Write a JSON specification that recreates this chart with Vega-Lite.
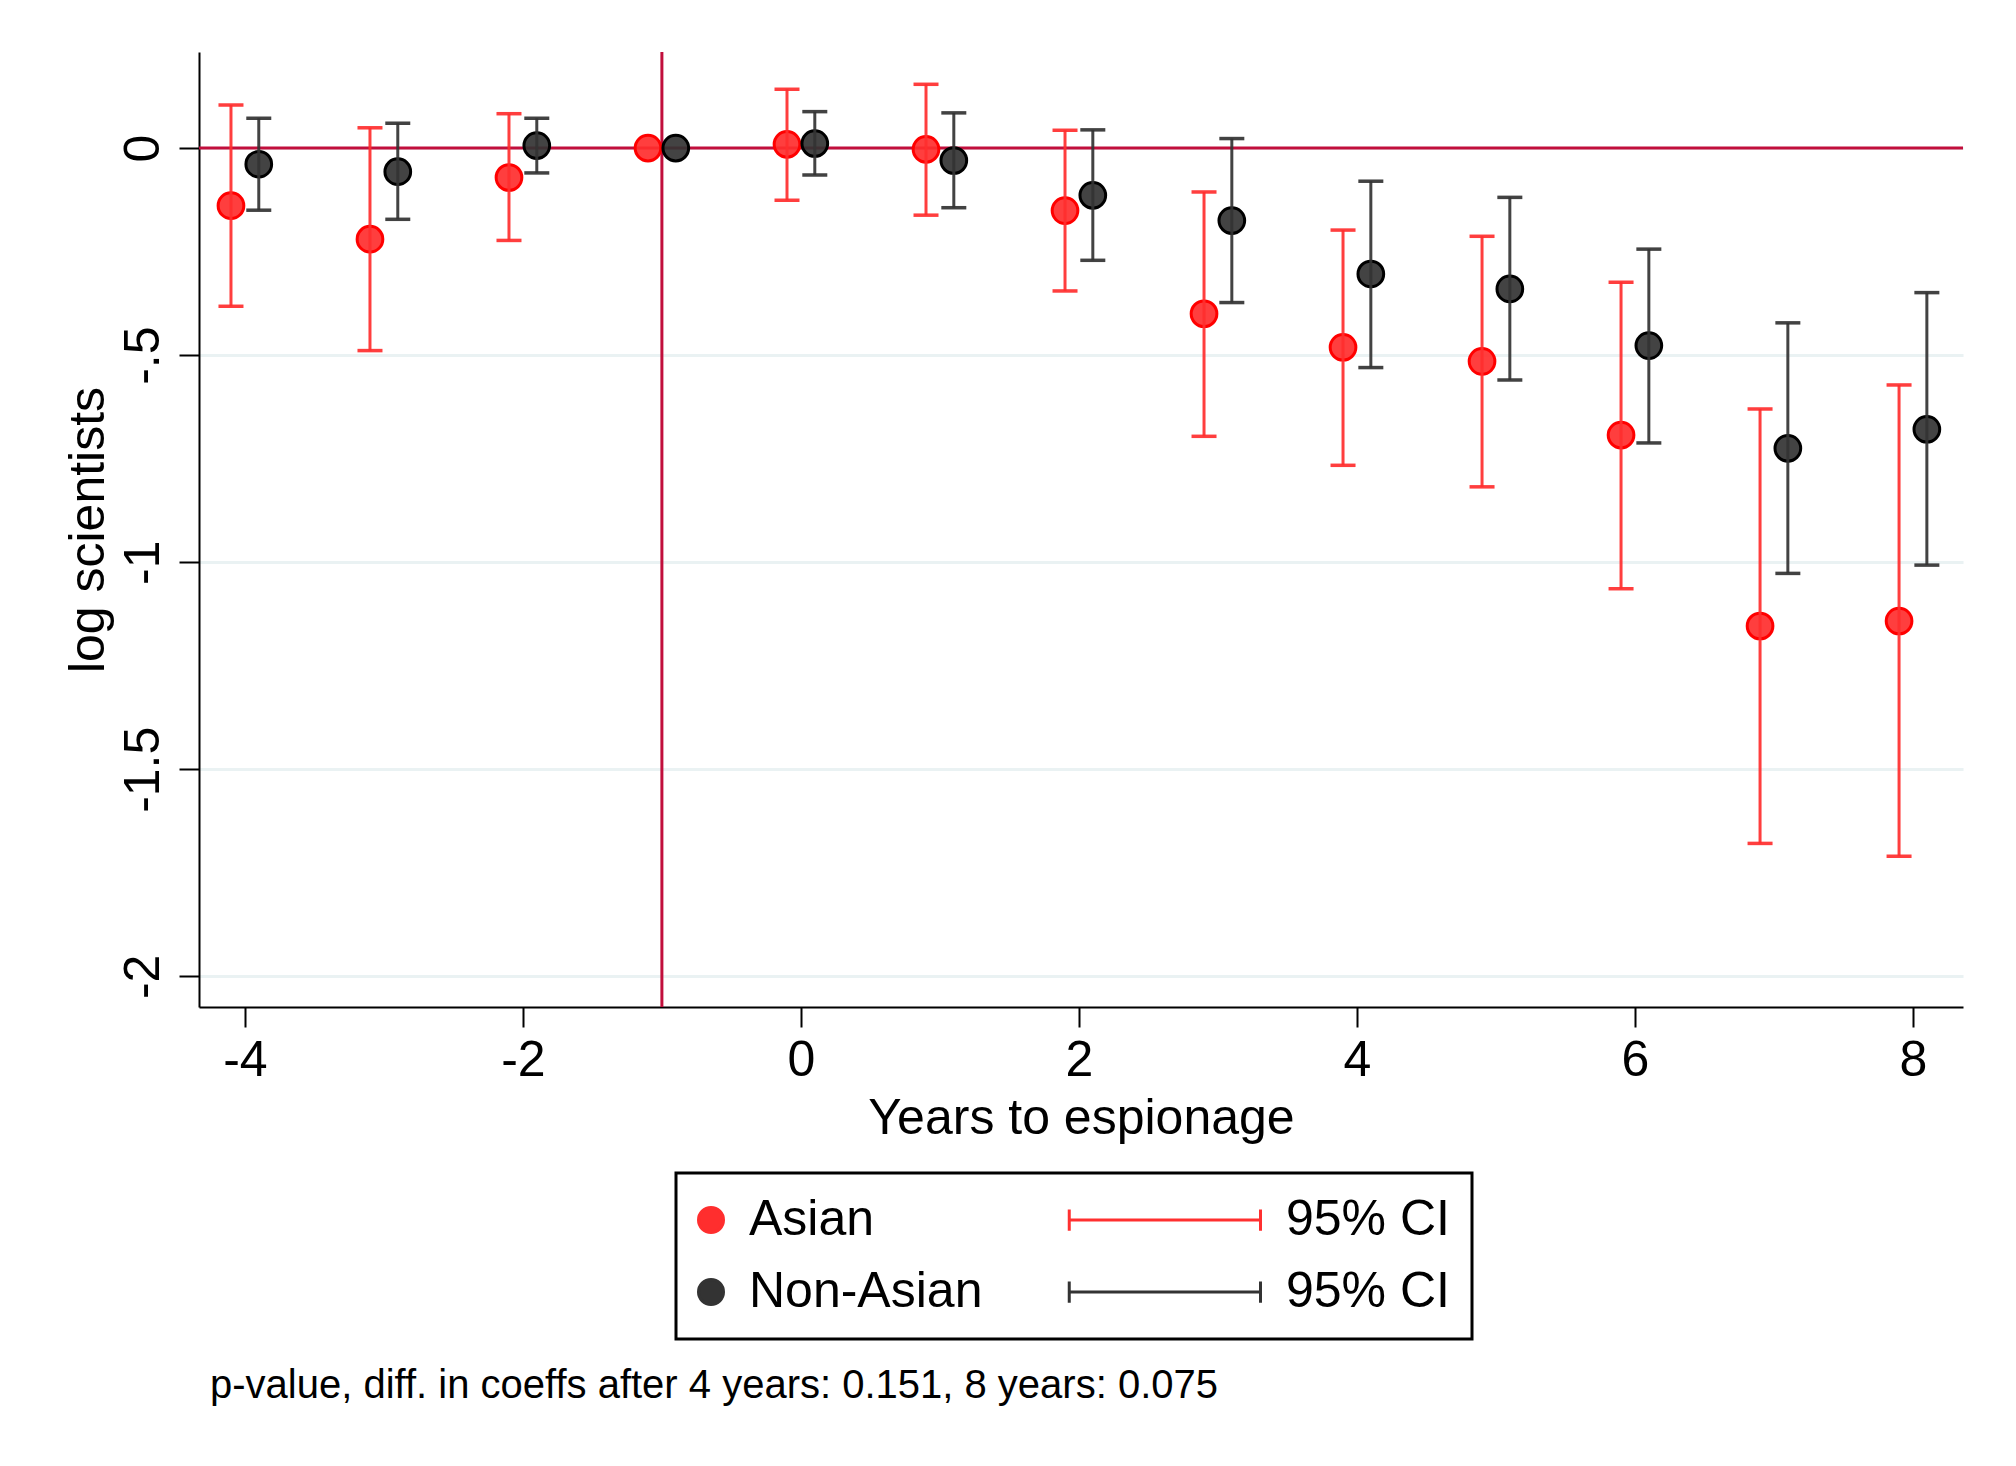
{
  "$schema": "https://vega.github.io/schema/vega-lite/v6.json",
  "autosize": {"type": "none"},
  "width": 1764,
  "height": 955,
  "padding": {"left": 199, "top": 52, "right": 53, "bottom": 459},
  "background": "white",
  "config": {
    "font": "Liberation Sans",
    "view": {"stroke": null},
    "axis": {
      "labelFontSize": 50,
      "titleFontSize": 50,
      "titleFontWeight": "normal",
      "labelColor": "black",
      "titleColor": "black",
      "domainColor": "black",
      "domainWidth": 2,
      "tickColor": "black",
      "tickWidth": 2,
      "tickSize": 20
    },
    "axisX": {"grid": false, "labelPadding": 8, "titlePadding": 8, "labelFlush": false},
    "axisY": {
      "grid": true,
      "gridColor": "#eaf2f3",
      "gridWidth": 3,
      "labelAngle": 270,
      "labelAlign": "center",
      "labelBaseline": "alphabetic",
      "labelPadding": 21,
      "titlePadding": 5
    }
  },
  "title": {
    "text": "p-value, diff. in coeffs after 4 years: 0.151, 8 years: 0.075",
    "orient": "bottom",
    "anchor": "start",
    "frame": "group",
    "fontSize": 40,
    "fontWeight": "normal",
    "color": "black",
    "offset": 25,
    "dx": 11
  },
  "data": {
    "values": [
      {"year": -4, "group": "Asian", "x": -4.1, "est": -0.139, "lo": -0.382, "hi": 0.104},
      {"year": -4, "group": "Non-Asian", "x": -3.9, "est": -0.039, "lo": -0.150, "hi": 0.072},
      {"year": -3, "group": "Asian", "x": -3.1, "est": -0.220, "lo": -0.489, "hi": 0.049},
      {"year": -3, "group": "Non-Asian", "x": -2.9, "est": -0.057, "lo": -0.172, "hi": 0.060},
      {"year": -2, "group": "Asian", "x": -2.1, "est": -0.071, "lo": -0.223, "hi": 0.083},
      {"year": -2, "group": "Non-Asian", "x": -1.9, "est": 0.006, "lo": -0.060, "hi": 0.072},
      {"year": -1, "group": "Asian", "x": -1.1, "est": 0, "lo": null, "hi": null},
      {"year": -1, "group": "Non-Asian", "x": -0.9, "est": 0, "lo": null, "hi": null},
      {"year": 0, "group": "Asian", "x": -0.1, "est": 0.009, "lo": -0.126, "hi": 0.142},
      {"year": 0, "group": "Non-Asian", "x": 0.1, "est": 0.011, "lo": -0.065, "hi": 0.088},
      {"year": 1, "group": "Asian", "x": 0.9, "est": -0.003, "lo": -0.162, "hi": 0.154},
      {"year": 1, "group": "Non-Asian", "x": 1.1, "est": -0.030, "lo": -0.144, "hi": 0.085},
      {"year": 2, "group": "Asian", "x": 1.9, "est": -0.151, "lo": -0.345, "hi": 0.043},
      {"year": 2, "group": "Non-Asian", "x": 2.1, "est": -0.114, "lo": -0.271, "hi": 0.044},
      {"year": 3, "group": "Asian", "x": 2.9, "est": -0.400, "lo": -0.696, "hi": -0.106},
      {"year": 3, "group": "Non-Asian", "x": 3.1, "est": -0.175, "lo": -0.373, "hi": 0.023},
      {"year": 4, "group": "Asian", "x": 3.9, "est": -0.481, "lo": -0.766, "hi": -0.198},
      {"year": 4, "group": "Non-Asian", "x": 4.1, "est": -0.304, "lo": -0.530, "hi": -0.080},
      {"year": 5, "group": "Asian", "x": 4.9, "est": -0.515, "lo": -0.818, "hi": -0.213},
      {"year": 5, "group": "Non-Asian", "x": 5.1, "est": -0.340, "lo": -0.560, "hi": -0.119},
      {"year": 6, "group": "Asian", "x": 5.9, "est": -0.693, "lo": -1.064, "hi": -0.324},
      {"year": 6, "group": "Non-Asian", "x": 6.1, "est": -0.477, "lo": -0.712, "hi": -0.244},
      {"year": 7, "group": "Asian", "x": 6.9, "est": -1.154, "lo": -1.679, "hi": -0.630},
      {"year": 7, "group": "Non-Asian", "x": 7.1, "est": -0.725, "lo": -1.027, "hi": -0.422},
      {"year": 8, "group": "Asian", "x": 7.9, "est": -1.142, "lo": -1.710, "hi": -0.572},
      {"year": 8, "group": "Non-Asian", "x": 8.1, "est": -0.679, "lo": -1.007, "hi": -0.349}
    ]
  },
  "layer": [
    {
      "data": {"values": [{"ref": 0}]},
      "mark": {"type": "rule", "color": "#c10f3c", "strokeWidth": 3},
      "encoding": {
        "y": {"field": "ref", "type": "quantitative", "title": "log scientists",
              "scale": {"domain": [-2.074, 0.232], "nice": false, "zero": false}}
      }
    },
    {
      "data": {"values": [{"event": -1}]},
      "mark": {"type": "rule", "color": "#c10f3c", "strokeWidth": 3},
      "encoding": {
        "x": {"field": "event", "type": "quantitative", "title": "Years to espionage",
              "scale": {"domain": [-4.33, 8.36], "nice": false, "zero": false}}
      }
    },
    {
      "mark": {"type": "point", "filled": true, "size": 660, "strokeWidth": 3, "fillOpacity": 0.92, "strokeOpacity": 1},
      "encoding": {
        "x": {"field": "x", "type": "quantitative", "title": "Years to espionage",
              "scale": {"domain": [-4.33, 8.36], "nice": false, "zero": false},
              "axis": {"values": [-4, -2, 0, 2, 4, 6, 8], "labelExpr": "toString(datum.value)"}},
        "y": {"field": "est", "type": "quantitative", "title": "log scientists",
              "scale": {"domain": [-2.074, 0.232], "nice": false, "zero": false},
              "axis": {"values": [0, -0.5, -1, -1.5, -2], "labelExpr": "replace(toString(datum.value), '-0.', '-.')"}},
        "color": {
          "field": "group", "type": "nominal",
          "scale": {"domain": ["Asian", "Non-Asian", "Asian CI", "Non-Asian CI"],
                    "range": ["#ff2e2e", "#333333", "#ff3030", "#333333"]},
          "legend": {
            "orient": "none",
            "legendX": 477,
            "legendY": 1121,
            "columns": 2,
            "title": null,
            "symbolSize": 625,
            "symbolStrokeWidth": 3,
            "symbolOffset": -12,
            "labelFontSize": 50,
            "labelColor": "black",
            "labelOffset": 13,
            "labelLimit": 600,
            "labelExpr": "indexof(datum.label, 'CI') >= 0 ? '95% CI' : datum.label",
            "strokeColor": "black",
            "padding": 22,
            "rowPadding": 22,
            "columnPadding": 80,
            "encode": {
              "legend": {"update": {"strokeWidth": {"value": 3}}},
              "symbols": {
                "update": {
                  "shape": {"signal": "indexof(datum.value, 'CI') >= 0 ? 'M-14.3,-0.85V0.85M-14.3,0H1M1,-0.85V0.85' : 'circle'"},
                  "fill": {"signal": "indexof(datum.value, 'CI') >= 0 ? 'transparent' : scale('color', datum.value)"},
                  "stroke": {"signal": "datum.value == 'Asian' ? '#ff0000' : datum.value == 'Non-Asian' ? '#000000' : scale('color', datum.value)"},
                  "opacity": {"value": 1}
                }
              }
            }
          }
        },
        "stroke": {
          "field": "group", "type": "nominal",
          "scale": {"domain": ["Asian", "Non-Asian"], "range": ["#ff0000", "#000000"]},
          "legend": null
        }
      }
    },
    {
      "transform": [{"filter": "datum.lo != null"}],
      "mark": {"type": "rule", "strokeWidth": 3, "opacity": 0.92},
      "encoding": {
        "x": {"field": "x", "type": "quantitative", "title": "Years to espionage"},
        "y": {"field": "lo", "type": "quantitative", "title": "log scientists"},
        "y2": {"field": "hi"},
        "color": {"field": "group", "type": "nominal"}
      }
    },
    {
      "transform": [{"filter": "datum.lo != null"}],
      "mark": {"type": "point", "shape": "M-1,0H1", "filled": false, "size": 625, "strokeWidth": 3.5, "opacity": 0.92},
      "encoding": {
        "x": {"field": "x", "type": "quantitative", "title": "Years to espionage"},
        "y": {"field": "lo", "type": "quantitative", "title": "log scientists"},
        "color": {"field": "group", "type": "nominal"}
      }
    },
    {
      "transform": [{"filter": "datum.hi != null"}],
      "mark": {"type": "point", "shape": "M-1,0H1", "filled": false, "size": 625, "strokeWidth": 3.5, "opacity": 0.92},
      "encoding": {
        "x": {"field": "x", "type": "quantitative", "title": "Years to espionage"},
        "y": {"field": "hi", "type": "quantitative", "title": "log scientists"},
        "color": {"field": "group", "type": "nominal"}
      }
    }
  ]
}
